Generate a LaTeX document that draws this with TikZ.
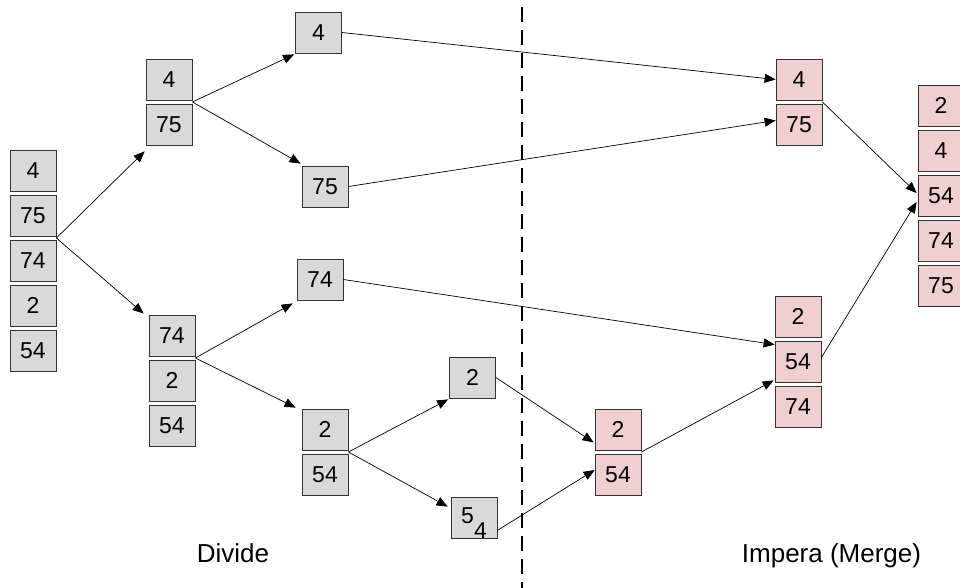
\documentclass[tikz,border=0pt]{standalone}
\usepackage{fontspec}
\setmainfont{Liberation Sans}
\usetikzlibrary{arrows.meta,calc}
\definecolor{boxgray}{HTML}{D9D9D9}
\definecolor{boxpink}{HTML}{EFCFCF}
\begin{document}
\begin{tikzpicture}[x=1pt,y=-1pt,
  gbox/.style={draw=black!80, fill=boxgray, minimum width=46pt, minimum height=41pt,
    inner sep=0pt, line width=0.8pt, font=\fontsize{23}{23}\selectfont},
  pbox/.style={gbox, fill=boxpink},
  arr/.style={-{Triangle[length=11pt,width=9pt]}, line width=0.7pt},
  lbl/.style={anchor=base, font=\fontsize{26}{26}\selectfont}]
\useasboundingbox (0,0) rectangle (960,588);
% dashed separator
\coordinate (top) at (522,0);
\coordinate (bot) at (522,588);
\draw[line width=1.6pt, dash pattern=on 15pt off 8pt, dash phase=-7pt] (top) -- (bot);
% column 1
\node[gbox] (a4)  at (33,170.5) {4};
\node[gbox] (a75) at (33,215.5) {75};
\node[gbox] (a74) at (33,260.5) {74};
\node[gbox] (a2)  at (33,305.5) {2};
\node[gbox] (a54) at (33,350.5) {54};
% column 2
\node[gbox] (b4)  at (169,79.5) {4};
\node[gbox] (b75) at (169,124.5) {75};
\node[gbox] (c74) at (172,335.5) {74};
\node[gbox] (c2)  at (172,380.5) {2};
\node[gbox] (c54) at (172,425.5) {54};
% column 3
\node[gbox] (d4)  at (318.5,32.5) {4};
\node[gbox] (d75) at (325,186.5) {75};
\node[gbox] (d74) at (320,279.5) {74};
\node[gbox] (d2)  at (325,429.5) {2};
\node[gbox] (d54) at (325,474.5) {54};
% column 4
\node[gbox] (e2)  at (472.5,377.5) {2};
\node[gbox] (e54) at (474,517.5) {\smash{\raisebox{-5.5pt}{5}\raisebox{-20.5pt}{4}}};
% merge side
\node[pbox] (p2)  at (618,429.5) {2};
\node[pbox] (p54) at (618,474.5) {54};
\node[pbox] (q2)  at (798,316.5) {2};
\node[pbox] (q54) at (798,361.5) {54};
\node[pbox] (q74) at (798,406.5) {74};
\node[pbox] (r4)  at (799,79.5) {4};
\node[pbox] (r75) at (799,124.5) {75};
\node[pbox] (f2)  at (941,105.5) {2};
\node[pbox] (f4)  at (941,150.5) {4};
\node[pbox] (f54) at (941,195.5) {54};
\node[pbox] (f74) at (941,240.5) {74};
\node[pbox] (f75) at (941,285.5) {75};
% split points
\coordinate (s1) at ($(a75.south east)!0.5!(a74.north east)$);
\coordinate (s2) at ($(b4.south east)!0.5!(b75.north east)$);
\coordinate (s3) at ($(c74.south east)!0.5!(c2.north east)$);
\coordinate (s4) at ($(d2.south east)!0.5!(d54.north east)$);
\coordinate (s5) at ($(p2.south east)!0.5!(p54.north east)$);
\coordinate (s6) at ($(r4.south east)!0.5!(r75.north east)$);
% connectors
\draw[arr] (s1) -- ($(b75.south west)+(-1,6)$);
\draw[arr] (s1) -- ($(c74.north west)+(-5,-1)$);
\draw[arr] (s2) -- ($(d4.south west)+(-1,1)$);
\draw[arr] (s2) -- ($(d75.north west)+(-1,-2)$);
\draw[arr] (d4.east) -- (r4.west);
\draw[arr] (d75.east) -- ($(r75.west)+(0,-4)$);
\draw[arr] (d74.east) -- ($(q54.north west)+(0,4)$);
\draw[arr] (s3) -- ($(d74.south west)+(-4,3)$);
\draw[arr] (s3) -- ($(d2.north west)+(-6,-1)$);
\draw[arr] (s4) -- ($(e2.south west)+(-1,1)$);
\draw[arr] (s4) -- ($(e54.north west)+(-3,10)$);
\draw[arr] (e2.east) -- ($(p2.south west)+(-1,-8)$);
\draw[arr] ($(e54.south east)+(0,-8)$) -- ($(p54.west)+(0,-4.5)$);
\draw[arr] (s5) -- ($(q54.south west)+(-1,-2)$);
\draw[arr] (s6) -- ($(f54.west)+(-1,-2.5)$);
\draw[arr] ($(q54.east)+(0,-4)$) -- ($(f54.west)+(-1,6.5)$);
% labels
\node[lbl] (ldiv) at (233,562) {Divide};
\node[lbl] (lmer) at (831.5,562) {Impera (Merge)};
\end{tikzpicture}
\end{document}
